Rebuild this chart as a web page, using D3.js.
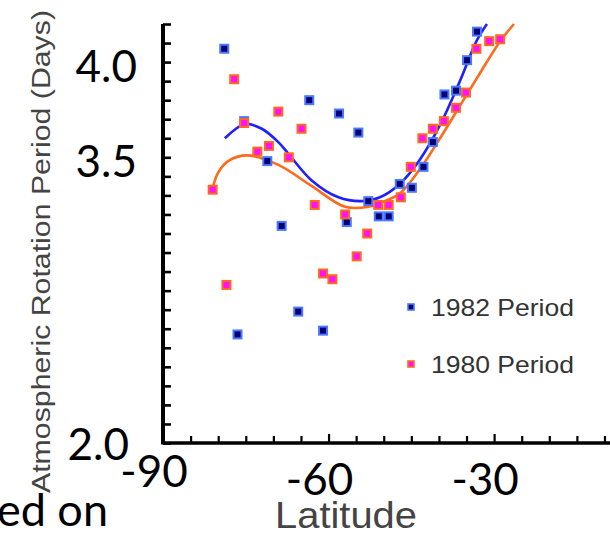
<!DOCTYPE html>
<html lang="en">
<head>
<meta charset="utf-8">
<title>Atmospheric Rotation Period</title>
<script src="https://d3js.org/d3.v7.min.js"></script>
<style>
  body { margin: 0; background: #fff; }
  svg { display: block; }
</style>
</head>
<body>
<script>
// latitude (deg) and period (days)
var lat1982 = [-78.9, -63.5, -58.1, -54.6, -75.3, -71.1, -68.5, -56.7, -52.8, -50.9, -49.1,
               -76.5, -65.5, -61.0, -33.1, -34.9, -39.0, -36.9, -41.1, -42.8, -44.9, -47.1];
var per1982 = [4.07, 3.80, 3.73, 3.63, 3.69, 3.48, 3.14, 3.16, 3.27, 3.19, 3.19,
               2.57, 2.69, 2.59, 4.16, 4.01, 3.83, 3.85, 3.58, 3.45, 3.34, 3.36];

var lat1980 = [-77.1, -69.1, -64.9, -75.3, -72.9, -70.8, -67.2, -81.0, -62.5, -57.0, -53.0,
               -54.9, -51.0, -49.1, -78.5, -61.0, -59.3, -33.2, -30.9, -28.9, -35.1, -36.9,
               -39.1, -41.1, -43.0, -45.1, -46.9];
var per1980 = [3.91, 3.74, 3.65, 3.68, 3.53, 3.56, 3.50, 3.33, 3.25, 3.20, 3.10,
               2.98, 3.25, 3.25, 2.83, 2.89, 2.86, 4.07, 4.11, 4.12, 3.84, 3.76,
               3.69, 3.65, 3.60, 3.45, 3.29];

// fitted curves
var fitLat1982 = [-78.8, -75.1, -72.1, -69.1, -67.3, -63.1, -58.2, -54.0, -50.7, -47.1, -43.4, -39.8, -36.2, -33.2, -31.3];
var fitPer1982 = [3.60, 3.675, 3.65, 3.58, 3.52, 3.38, 3.29, 3.27, 3.29, 3.36, 3.49, 3.67, 3.90, 4.11, 4.20];
var fitLat1980 = [-81.0, -80.0, -78.2, -74.8, -69.1, -63.1, -57.0, -52.8, -50.7, -47.1, -43.4, -39.8, -36.2, -32.6, -28.9, -26.4];
var fitPer1980 = [3.34, 3.42, 3.48, 3.51, 3.46, 3.35, 3.24, 3.24, 3.26, 3.31, 3.44, 3.60, 3.77, 3.94, 4.11, 4.20];

var xTicks = d3.range(-90, -9, 5);
var yTicks = d3.range(20, 43).map(function(d){ return d / 10; });
var xLabels = ["-90", "-60", "-30"];
var yLabels = ["4.0", "3.5", "2.0"];
var legendNames = ["1982 Period", "1980 Period"];

var W = 610, H = 533;
var x = d3.scaleLinear().domain([-90, -9]).range([163, 610]);
var y = d3.scaleLinear().domain([2.0, 4.2]).range([443, 24]);

var svg = d3.select("body").append("svg").attr("width", W).attr("height", H);

// curves
var line = d3.line()
  .x(function(d){ return x(d[0]); })
  .y(function(d){ return y(d[1]); })
  .curve(d3.curveCatmullRom);

svg.append("path")
  .datum(d3.zip(fitLat1982, fitPer1982))
  .attr("d", line)
  .style("fill", "none").style("stroke", "#1f1fff").style("stroke-width", 2.6);

svg.append("path")
  .datum(d3.zip(fitLat1980, fitPer1980))
  .attr("d", line)
  .style("fill", "none").style("stroke", "#ff6a1c").style("stroke-width", 2.6);

// points
function squares(lats, pers, fill, edge) {
  svg.append("g").selectAll("rect")
    .data(d3.zip(lats, pers))
    .enter().append("rect")
    .attr("x", function(d){ return x(d[0]) - 4; })
    .attr("y", function(d){ return y(d[1]) - 4; })
    .attr("width", 8).attr("height", 8)
    .style("fill", fill).style("stroke", edge).style("stroke-width", 2);
}
squares(lat1982, per1982, "#000070", "#4a78ff");
squares(lat1980, per1980, "#ff10ff", "#ff6a1c");

// axes
var xAxis = d3.axisTop(x).tickValues(xTicks).tickSize(7).tickFormat("");
var gx = svg.append("g").attr("transform", "translate(0,443)").call(xAxis);
gx.select(".domain").attr("d", "M163,0H610").style("stroke-width", 3.5);
gx.selectAll(".tick line").style("stroke-width", 2.2)
  .attr("y2", function(d){ return d % 30 === 0 ? -9 : -7; });

var yAxis = d3.axisRight(y).tickValues(yTicks).tickSize(8).tickFormat("");
var gy = svg.append("g").attr("transform", "translate(163,0)").call(yAxis);
gy.select(".domain").attr("d", "M0," + y(4.2) + "V" + (y(2.0) + 1.5)).style("stroke-width", 4);
gy.selectAll(".tick line").style("stroke-width", 2.6);

// big tick labels
var bigFont = "Lato, 'Open Sans', sans-serif";
svg.append("g").selectAll("text")
  .data(yLabels).enter().append("text")
  .attr("x", function(d, i){ return i === 2 ? 129 : 137; })
  .attr("y", function(d, i){ return y(+d) + (i === 2 ? 17 : 20); })
  .attr("text-anchor", "end")
  .style("font-family", bigFont).style("font-size", "44px").style("fill", "#000")
  .text(function(d){ return d; });

svg.append("g").selectAll("text")
  .data(xLabels).enter().append("text")
  .attr("x", function(d){ return x(+d) - 9; })
  .attr("y", function(d, i){ return i === 0 ? 487 : 495; })
  .attr("text-anchor", "middle")
  .style("font-family", bigFont).style("font-size", "44px").style("fill", "#000")
  .text(function(d){ return d; });

// axis titles
svg.append("text")
  .attr("transform", "translate(50,251.5) rotate(-90)")
  .attr("text-anchor", "middle")
  .attr("textLength", 483).attr("lengthAdjust", "spacingAndGlyphs")
  .style("font-family", "'Liberation Sans', Arial, sans-serif").style("font-size", "25px")
  .style("fill", "#444")
  .text("Atmospheric Rotation Period (Days)");

svg.append("text")
  .attr("x", 346).attr("y", 528)
  .attr("text-anchor", "middle")
  .attr("textLength", 142).attr("lengthAdjust", "spacingAndGlyphs")
  .style("font-family", "'Liberation Sans', Arial, sans-serif").style("font-size", "37px")
  .style("fill", "#444")
  .text("Latitude");

// cut-off caption text at the bottom left
svg.append("text")
  .attr("x", 108).attr("y", 526)
  .attr("text-anchor", "end")
  .style("font-family", bigFont).style("font-size", "45px").style("fill", "#000")
  .text("ed on");

// legend
var legend = svg.append("g").selectAll("g")
  .data(legendNames).enter().append("g")
  .attr("transform", function(d, i){ return "translate(411," + (307 + i * 57) + ")"; });
legend.append("rect")
  .attr("x", -3).attr("y", -3).attr("width", 6).attr("height", 6)
  .style("fill", function(d, i){ return i ? "#ff10ff" : "#000070"; })
  .style("stroke", function(d, i){ return i ? "#ff6a1c" : "#4a78ff"; })
  .style("stroke-width", 1.6);
legend.append("text")
  .attr("x", 20).attr("y", 9)
  .attr("textLength", 143).attr("lengthAdjust", "spacingAndGlyphs")
  .style("font-family", "'Liberation Sans', Arial, sans-serif").style("font-size", "24px")
  .style("fill", "#333")
  .text(function(d){ return d; });
</script>
</body>
</html>
